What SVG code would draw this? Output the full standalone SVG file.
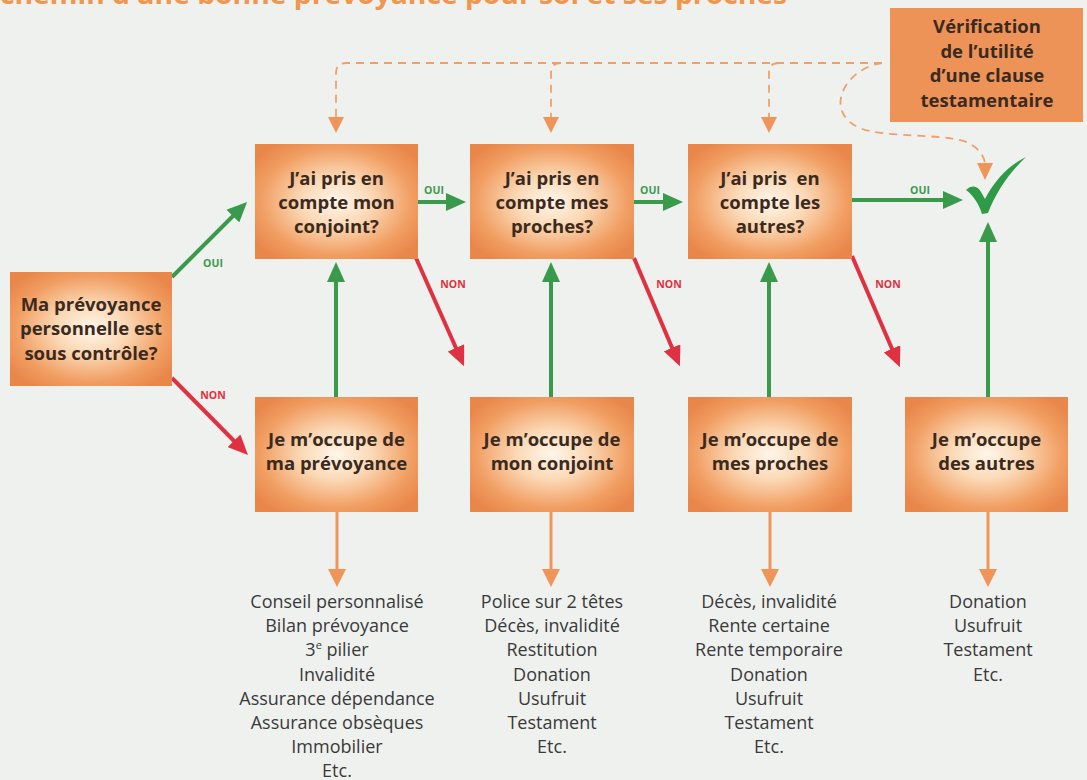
<svg xmlns="http://www.w3.org/2000/svg" width="1087" height="780" viewBox="0 0 1087 780">
<defs>
<radialGradient id="gbox" cx="0.5" cy="0.5" r="0.62">
<stop offset="0" stop-color="#fff6ea"/>
<stop offset="0.35" stop-color="#fbd9b6"/>
<stop offset="0.75" stop-color="#f19e62"/>
<stop offset="1" stop-color="#e9864a"/>
</radialGradient>
<marker id="ag" viewBox="0 0 20 18" refX="10" refY="9" markerWidth="20" markerHeight="18" markerUnits="userSpaceOnUse" orient="auto"><path d="M0 0 L20 9 L0 18 Z" fill="#3a9a4b"/></marker>
<marker id="ar" viewBox="0 0 20 18" refX="10" refY="9" markerWidth="20" markerHeight="18" markerUnits="userSpaceOnUse" orient="auto"><path d="M0 0 L20 9 L0 18 Z" fill="#df3141"/></marker>
<marker id="ao" viewBox="0 0 18 18" refX="8" refY="9" markerWidth="18" markerHeight="18" markerUnits="userSpaceOnUse" orient="auto"><path d="M0 0 L18 9 L0 18 Z" fill="#f0955a"/></marker>
</defs>
<style>
.box{fill:url(#gbox);}
.vbox{fill:#ee9358;}
.bt{font-family:"Open Sans","Noto Sans","Liberation Sans",sans-serif;font-weight:bold;font-size:18.5px;fill:#3b2a1e;text-anchor:middle;}
.lt{font-family:"Open Sans","Noto Sans","Liberation Sans",sans-serif;font-size:18px;fill:#3a3a3a;text-anchor:middle;}
.oui{font-family:"Open Sans","Noto Sans","Liberation Sans",sans-serif;font-weight:bold;font-size:10.5px;fill:#3a9a4b;text-anchor:middle;}
.non{font-family:"Open Sans","Noto Sans","Liberation Sans",sans-serif;font-weight:bold;font-size:10.5px;fill:#df3141;text-anchor:middle;}
.g{stroke:#3a9a4b;stroke-width:4;fill:none;marker-end:url(#ag);}
.r{stroke:#df3141;stroke-width:4;fill:none;marker-end:url(#ar);}
.o{stroke:#f0955a;stroke-width:3;fill:none;marker-end:url(#ao);}
.d{stroke:#f0a067;stroke-width:1.8;fill:none;stroke-dasharray:8 6;}
.dh{fill:#f0955a;}
</style>
<rect width="1087" height="780" fill="#eef1ee"/>
<text x="0" y="4" textLength="787" lengthAdjust="spacingAndGlyphs" style="font-family:'Open Sans','Noto Sans',sans-serif;font-weight:bold;font-size:26px;fill:#f0964f;">chemin d’une bonne prévoyance pour soi et ses proches</text>

<g id="connectors">
<path class="d" d="M882 63 L346 63 Q336 63 336 73 L336 118"/>
<path class="d" d="M561 63 Q551 63 551 73 L551 118"/>
<path class="d" d="M779 63 Q769 63 769 73 L769 118"/>
<path class="d" d="M882 63 C845 68 822 112 860 128 C885 139 955 132 972 145 Q983 152 985 163"/>
<polygon class="dh" points="328,117 344,117 336,133"/>
<polygon class="dh" points="543,117 559,117 551,133"/>
<polygon class="dh" points="761,117 777,117 769,133"/>
<polygon class="dh" points="977,163 993,163 985,180"/>

<path class="g" d="M172 277 L240 209"/>
<path class="r" d="M172 378 L241 448"/>
<path class="g" d="M418 202 L456 202"/>
<path class="g" d="M634 202 L673 202"/>
<path class="g" d="M852 200 L953 200"/>
<path class="r" d="M416 258 L460 357"/>
<path class="r" d="M634 258 L676 357"/>
<path class="r" d="M852 256 L896 358"/>
<path class="g" d="M336 397 L336 272"/>
<path class="g" d="M551 397 L551 272"/>
<path class="g" d="M769 397 L769 272"/>
<path class="g" d="M988 397 L988 232"/>
<path class="o" d="M337 512 L337 577"/>
<path class="o" d="M551 512 L551 577"/>
<path class="o" d="M770 512 L770 577"/>
<path class="o" d="M988 512 L988 577"/>

<text class="oui" x="213" y="267">OUI</text>
<text class="non" x="213" y="399">NON</text>
<text class="oui" x="434" y="194">OUI</text>
<text class="oui" x="650" y="194">OUI</text>
<text class="oui" x="920" y="194">OUI</text>
<text class="non" x="453" y="288">NON</text>
<text class="non" x="669" y="288">NON</text>
<text class="non" x="888" y="288">NON</text>
</g>

<g id="check">
<path d="M966 190 C972 184 978 186 981 192 L985 199 C995 180 1008 166 1026 157 C1010 172 996 192 988 213 L982 214 C979 204 973 195 966 190 Z" fill="#2f9a47"/>
</g>

<g id="n-verif">
<rect class="vbox" x="890" y="8" width="193" height="114"/>
<text class="bt" x="987" y="33">Vérification</text>
<text class="bt" x="987" y="58">de l’utilité</text>
<text class="bt" x="987" y="82">d’une clause</text>
<text class="bt" x="987" y="107">testamentaire</text>
</g>

<g id="n-start">
<rect class="box" x="10" y="272" width="162" height="114"/>
<text class="bt" x="91" y="311">Ma prévoyance</text>
<text class="bt" x="91" y="335">personnelle est</text>
<text class="bt" x="91" y="360">sous contrôle?</text>
</g>

<g id="n-q1">
<rect class="box" x="255" y="144" width="163" height="115"/>
<text class="bt" x="336.5" y="185">J’ai pris en</text>
<text class="bt" x="336.5" y="209">compte mon</text>
<text class="bt" x="336.5" y="233">conjoint?</text>
</g>

<g id="n-q2">
<rect class="box" x="470" y="144" width="164" height="115"/>
<text class="bt" x="552" y="185">J’ai pris en</text>
<text class="bt" x="552" y="209">compte mes</text>
<text class="bt" x="552" y="233">proches?</text>
</g>

<g id="n-q3">
<rect class="box" x="688" y="144" width="164" height="115"/>
<text class="bt" x="770" y="185" style="white-space:pre">J’ai pris  en</text>
<text class="bt" x="770" y="209">compte les</text>
<text class="bt" x="770" y="233">autres?</text>
</g>

<g id="n-a1">
<rect class="box" x="255" y="397" width="163" height="115"/>
<text class="bt" x="336.5" y="446">Je m’occupe de</text>
<text class="bt" x="336.5" y="470">ma prévoyance</text>
</g>

<g id="n-a2">
<rect class="box" x="470" y="397" width="164" height="115"/>
<text class="bt" x="552" y="446">Je m’occupe de</text>
<text class="bt" x="552" y="470">mon conjoint</text>
</g>

<g id="n-a3">
<rect class="box" x="688" y="397" width="164" height="115"/>
<text class="bt" x="770" y="446">Je m’occupe de</text>
<text class="bt" x="770" y="470">mes proches</text>
</g>

<g id="n-a4">
<rect class="box" x="905" y="397" width="163" height="115"/>
<text class="bt" x="986.5" y="446">Je m’occupe</text>
<text class="bt" x="986.5" y="470">des autres</text>
</g>

<g id="list1">
<text class="lt" x="337" y="608">Conseil personnalisé</text>
<text class="lt" x="337" y="632">Bilan prévoyance</text>
<text class="lt" x="337" y="656">3<tspan font-size="11" dy="-7">e</tspan><tspan dy="7"> pilier</tspan></text>
<text class="lt" x="337" y="681">Invalidité</text>
<text class="lt" x="337" y="705">Assurance dépendance</text>
<text class="lt" x="337" y="729">Assurance obsèques</text>
<text class="lt" x="337" y="753">Immobilier</text>
<text class="lt" x="337" y="777">Etc.</text>
</g>

<g id="list2">
<text class="lt" x="552" y="608">Police sur 2 têtes</text>
<text class="lt" x="552" y="632">Décès, invalidité</text>
<text class="lt" x="552" y="656">Restitution</text>
<text class="lt" x="552" y="681">Donation</text>
<text class="lt" x="552" y="705">Usufruit</text>
<text class="lt" x="552" y="729">Testament</text>
<text class="lt" x="552" y="753">Etc.</text>
</g>

<g id="list3">
<text class="lt" x="769" y="608">Décès, invalidité</text>
<text class="lt" x="769" y="632">Rente certaine</text>
<text class="lt" x="769" y="656">Rente temporaire</text>
<text class="lt" x="769" y="681">Donation</text>
<text class="lt" x="769" y="705">Usufruit</text>
<text class="lt" x="769" y="729">Testament</text>
<text class="lt" x="769" y="753">Etc.</text>
</g>

<g id="list4">
<text class="lt" x="988" y="608">Donation</text>
<text class="lt" x="988" y="632">Usufruit</text>
<text class="lt" x="988" y="656">Testament</text>
<text class="lt" x="988" y="681">Etc.</text>
</g>
</svg>
